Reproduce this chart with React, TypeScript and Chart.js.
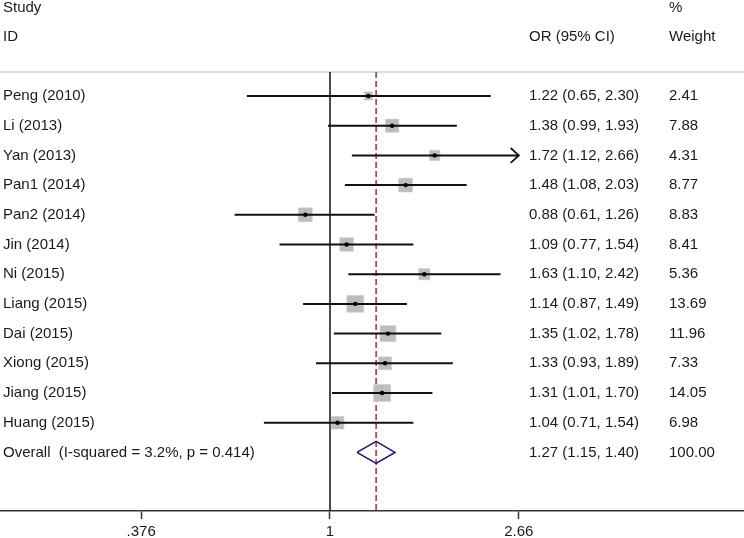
import React, { useEffect, useRef } from "react";
import { Chart, registerables } from "chart.js";

Chart.register(...registerables);

const studies = [
  "Peng (2010)", "Li (2013)", "Yan (2013)", "Pan1 (2014)", "Pan2 (2014)", "Jin (2014)",
  "Ni (2015)", "Liang (2015)", "Dai (2015)", "Xiong (2015)", "Jiang (2015)", "Huang (2015)",
];
const orValues = [1.22, 1.38, 1.72, 1.48, 0.88, 1.09, 1.63, 1.14, 1.35, 1.33, 1.31, 1.04];
const lowerCI = [0.65, 0.99, 1.12, 1.08, 0.61, 0.77, 1.10, 0.87, 1.02, 0.93, 1.01, 0.71];
const upperCI = [2.30, 1.93, 2.66, 2.03, 1.26, 1.54, 2.42, 1.49, 1.78, 1.89, 1.70, 1.54];
const weights = [2.41, 7.88, 4.31, 8.77, 8.83, 8.41, 5.36, 13.69, 11.96, 7.33, 14.05, 6.98];
const overallLabel = "Overall  (I-squared = 3.2%, p = 0.414)";
const overallOR = 1.27;
const overallLower = 1.15;
const overallUpper = 1.40;
const overallWeight = "100.00";
const tickValues = [0.376, 1, 2.66];
const tickLabels = [".376", "1", "2.66"];
const xMin = 0.1809;
const xMax = 8.543;
const arrowStudies = [2]; // CI truncated at upper tick

const fmt = (v: number) => v.toFixed(2);

export default function App() {
  const ref = useRef<HTMLCanvasElement | null>(null);

  useEffect(() => {
    if (!ref.current) return;
    const font = '"Liberation Sans", Arial, sans-serif';
    const n = studies.length;
    const overallRow = n;
    const datasets: any[] = [];

    // header separator line
    datasets.push({
      type: "line",
      order: 20,
      data: [{ x: xMin, y: -0.81 }, { x: xMax, y: -0.81 }],
      borderColor: "#cfcfcf",
      borderWidth: 1.5,
      pointRadius: 0,
    });
    // null line
    datasets.push({
      type: "line",
      order: 19,
      data: [{ x: 1, y: -0.81 }, { x: 1, y: 14.5 }],
      borderColor: "#111",
      borderWidth: 1.5,
      pointRadius: 0,
    });
    // overall dashed line
    datasets.push({
      type: "line",
      order: 18,
      data: [{ x: overallOR, y: -0.81 }, { x: overallOR, y: 14.5 }],
      borderColor: "#a8525f",
      borderWidth: 1.8,
      borderDash: [6, 3],
      pointRadius: 0,
    });
    // squares
    datasets.push({
      type: "scatter",
      order: 17,
      data: orValues.map((v, i) => ({ x: v, y: i })),
      pointStyle: "rect",
      pointRadius: (ctx: any) => (2 + 4 * Math.sqrt(weights[ctx.dataIndex] ?? 1)) / Math.SQRT2,
      backgroundColor: "#bdbdbd",
      borderColor: "#c8c8c8",
      borderWidth: 0.5,
    });
    // CI lines
    studies.forEach((_, i) => {
      datasets.push({
        type: "line",
        order: 16,
        data: [{ x: lowerCI[i], y: i }, { x: upperCI[i], y: i }],
        borderColor: "#111",
        borderWidth: 2,
        pointRadius: 0,
      });
    });
    // arrows
    arrowStudies.forEach((i) => {
      const tip = upperCI[i];
      const back = tip * Math.exp(-0.042);
      datasets.push({
        type: "line",
        order: 16,
        data: [{ x: back, y: i - 0.25 }, { x: tip, y: i }, { x: back, y: i + 0.25 }],
        borderColor: "#111",
        borderWidth: 1.8,
        pointRadius: 0,
      });
    });
    // center dots
    datasets.push({
      type: "scatter",
      order: 15,
      data: orValues.map((v, i) => ({ x: v, y: i })),
      pointStyle: "circle",
      pointRadius: 2.2,
      backgroundColor: "#000",
      borderWidth: 0,
    });
    // diamond
    datasets.push({
      type: "line",
      order: 15,
      data: [
        { x: overallLower, y: overallRow },
        { x: overallOR, y: overallRow - 0.37 },
        { x: overallUpper, y: overallRow },
        { x: overallOR, y: overallRow + 0.37 },
        { x: overallLower, y: overallRow },
      ],
      borderColor: "#1b1b6b",
      borderWidth: 1.6,
      pointRadius: 0,
      fill: false,
      tension: 0,
    });

    const textPlugin = {
      id: "forestText",
      afterDraw(chart: any) {
        const c = chart.ctx;
        const ys = chart.scales.y;
        c.save();
        c.font = `15px ${font}`;
        c.fillStyle = "#1a1a1a";
        c.textBaseline = "middle";
        c.textAlign = "left";
        const put = (t: string, x: number, row: number) => c.fillText(t, x, ys.getPixelForValue(row));
        put("Study", 3, -2.96);
        put("ID", 3, -1.99);
        put("OR (95% CI)", 529, -1.99);
        put("%", 669, -2.96);
        put("Weight", 669, -1.99);
        studies.forEach((s, i) => {
          put(s, 3, i);
          put(`${fmt(orValues[i])} (${fmt(lowerCI[i])}, ${fmt(upperCI[i])})`, 529, i);
          put(fmt(weights[i]), 669, i);
        });
        put(overallLabel, 3, overallRow);
        put(`${fmt(overallOR)} (${fmt(overallLower)}, ${fmt(overallUpper)})`, 529, overallRow);
        put(overallWeight, 669, overallRow);
        c.restore();
      },
    };

    const chart = new Chart(ref.current, {
      type: "scatter",
      data: { datasets },
      options: {
        animation: false,
        responsive: false,
        maintainAspectRatio: false,
        layout: { padding: 0, autoPadding: false },
        plugins: { legend: { display: false }, tooltip: { enabled: false } },
        scales: {
          x: {
            type: "logarithmic",
            min: xMin,
            max: xMax,
            bounds: "data",
            afterBuildTicks: (scale: any) => {
              scale.ticks = tickValues.map((v) => ({ value: v }));
            },
            afterFit: (scale: any) => {
              scale.height = 27;
              scale.paddingLeft = 0;
              scale.paddingRight = 0;
            },
            ticks: {
              callback: (_v: any, idx: number) => tickLabels[idx],
              font: { family: font, size: 15 },
              color: "#1a1a1a",
              padding: 4,
              maxRotation: 0,
              autoSkip: false,
            },
            grid: {
              drawOnChartArea: false,
              drawTicks: true,
              tickLength: 8,
              tickWidth: 1.5,
              color: "#333",
            },
            border: { display: true, color: "#333", width: 1.5 },
          },
          y: {
            type: "linear",
            display: false,
            reverse: true,
            min: -3.232,
            max: 13.973,
          },
        },
      },
      plugins: [textPlugin],
    });
    return () => chart.destroy();
  }, []);

  return (
    <div style={{ position: "absolute", left: 0, top: 0, width: 744, height: 538, background: "#fff" }}>
      <canvas ref={ref} width={744} height={538} style={{ display: "block" }} />
    </div>
  );
}
